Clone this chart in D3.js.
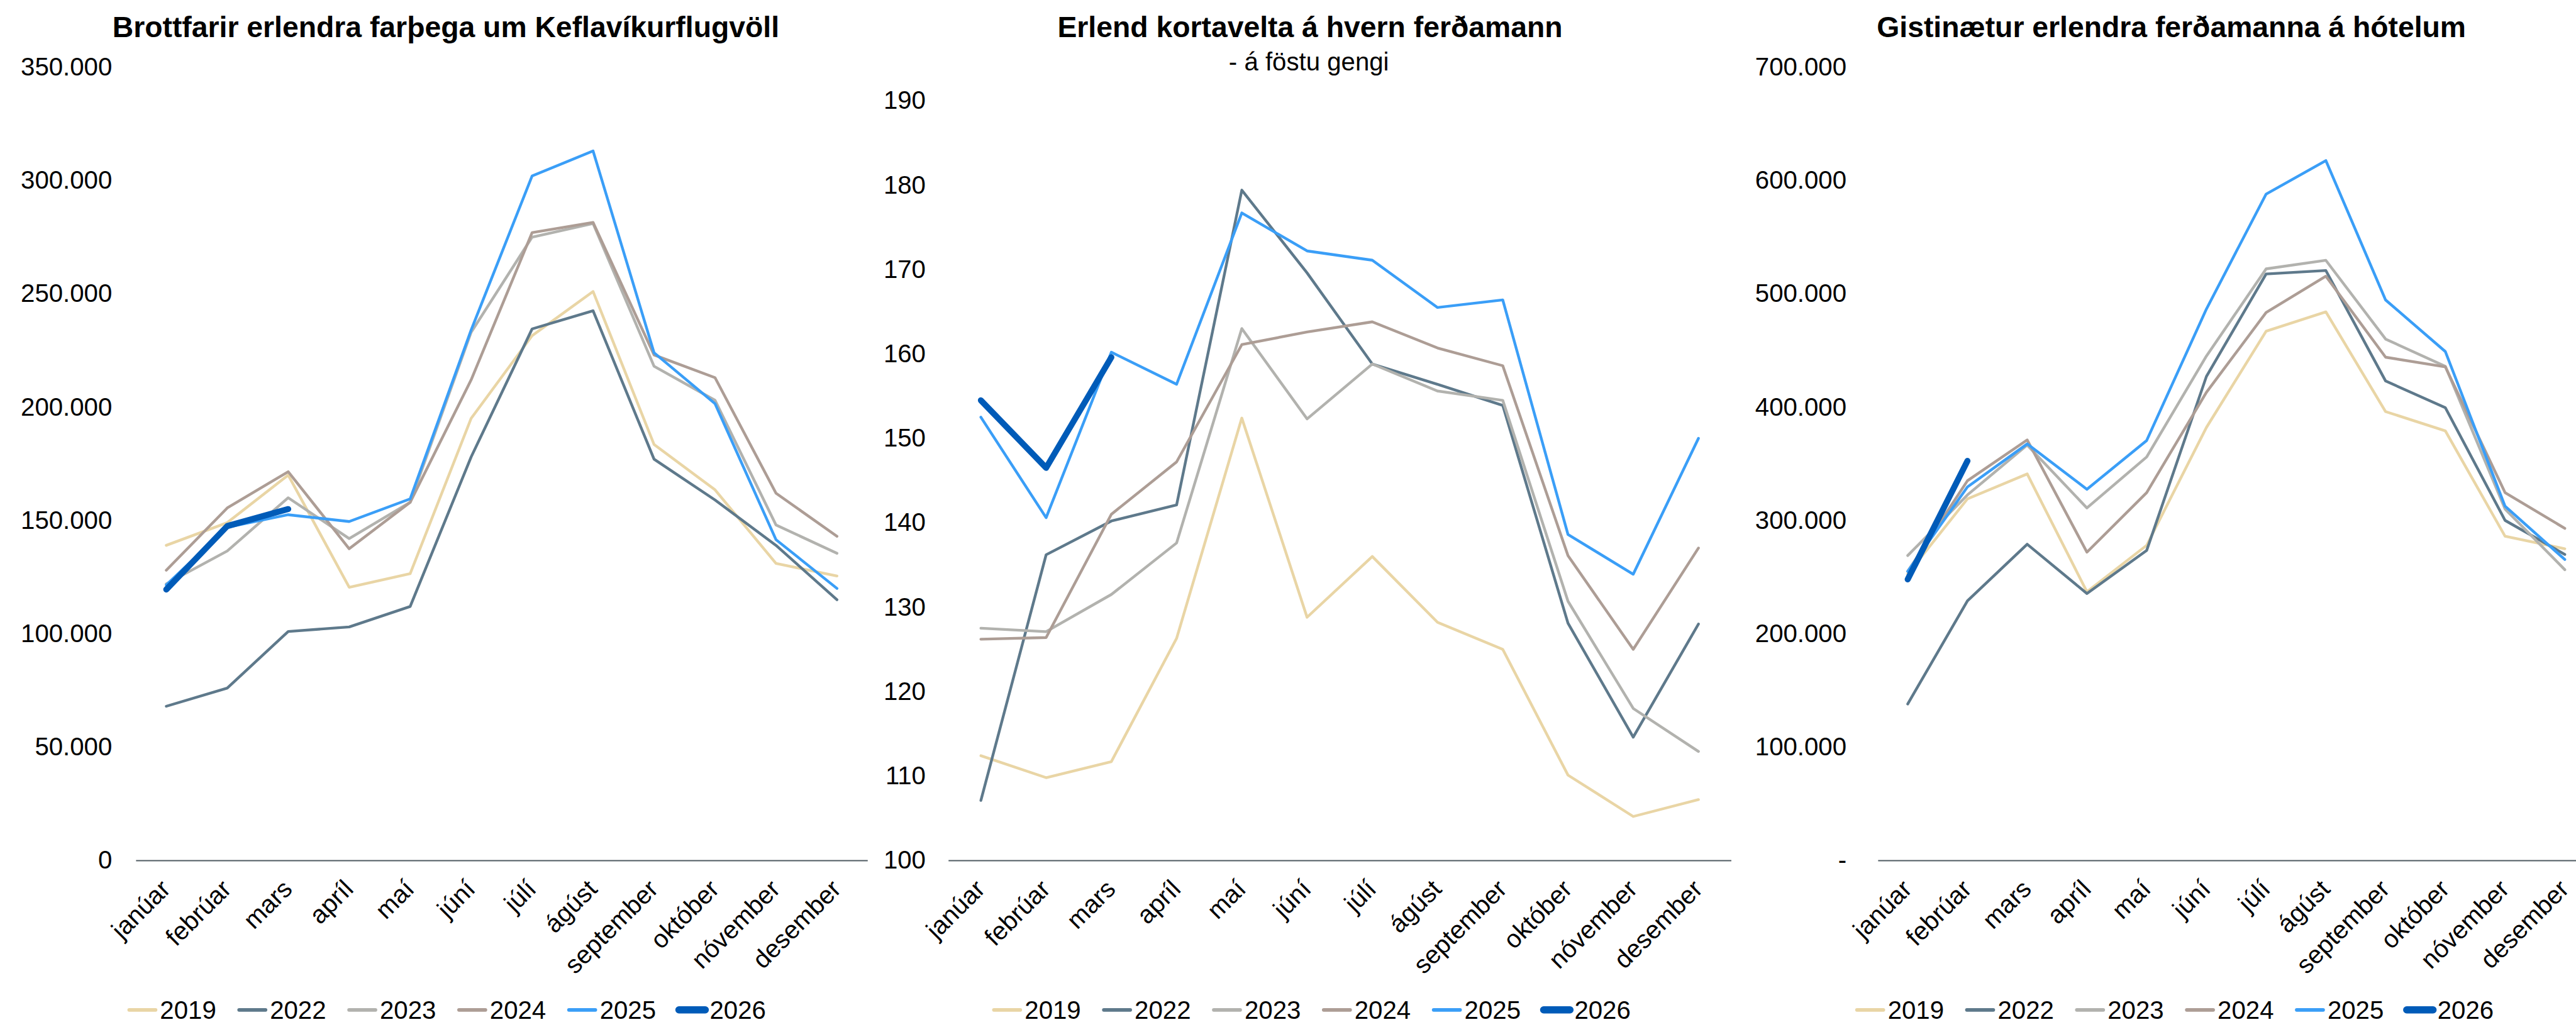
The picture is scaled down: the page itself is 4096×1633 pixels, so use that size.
<!DOCTYPE html>
<html>
<head>
<meta charset="utf-8">
<script src="https://cdn.jsdelivr.net/npm/d3@7"></script>
<style>
  html, body { margin: 0; padding: 0; background: #fff; overflow: hidden; }
  svg text { font-family: "Liberation Sans", Arial, sans-serif; fill: #000; }
</style>
</head>
<body>
<svg id="chart"></svg>
<script>
// ---- data ---------------------------------------------------------------
const months = ["janúar", "febrúar", "mars", "apríl", "maí", "júní",
                "júlí", "ágúst", "september", "október", "nóvember", "desember"];
const years = ["2019", "2022", "2023", "2024", "2025", "2026"];

// Brottfarir erlendra farþega um Keflavíkurflugvöll
const dep2019 = [139000, 149000, 170000, 120500, 126500, 195000, 231500, 251000, 183500, 163500, 131000, 125500];
const dep2022 = [68000, 76000, 101000, 103000, 112000, 178000, 234500, 242500, 177000, 159000, 139000, 115000];
const dep2023 = [122000, 136500, 160000, 142000, 158000, 233000, 275000, 281000, 218000, 203000, 148000, 135500];
const dep2024 = [128000, 155500, 171500, 137500, 158000, 212000, 277000, 281500, 223000, 213000, 162000, 143000];
const dep2025 = [121500, 147000, 152500, 149500, 159500, 234000, 302000, 313000, 224000, 201500, 141500, 120000];
const dep2026 = [119500, 147500, 155000];
const depTicks = [0, 50000, 100000, 150000, 200000, 250000, 300000, 350000];

// Erlend kortavelta á hvern ferðamann - á föstu gengi
const card2019 = [112.4, 109.8, 111.7, 126.3, 152.4, 128.8, 136.0, 128.2, 125.0, 110.1, 105.2, 107.2];
const card2022 = [107.1, 136.2, 140.2, 142.1, 179.4, 169.6, 158.8, 156.4, 153.9, 128.1, 114.6, 128.0];
const card2023 = [127.5, 127.1, 131.5, 137.6, 163.0, 152.3, 158.8, 155.6, 154.5, 130.7, 118.0, 112.9];
const card2024 = [126.2, 126.4, 141.0, 147.2, 161.1, 162.6, 163.8, 160.7, 158.6, 136.1, 125.0, 137.0];
const card2025 = [152.5, 140.6, 160.2, 156.4, 176.7, 172.2, 171.1, 165.5, 166.4, 138.6, 133.9, 150.0];
const card2026 = [154.5, 146.5, 159.6];
const cardTicks = [100, 110, 120, 130, 140, 150, 160, 170, 180, 190];

// Gistinætur erlendra ferðamanna á hótelum
const hot2019 = [252800, 319000, 341000, 237000, 278000, 382000, 467000, 484000, 396000, 379000, 286000, 275000];
const hot2022 = [138000, 229000, 279000, 235500, 273500, 427000, 517500, 520500, 423000, 399500, 300000, 270000];
const hot2023 = [269000, 322500, 366500, 311000, 356000, 445000, 522000, 529500, 460000, 436000, 310000, 256500];
const hot2024 = [255000, 335000, 371000, 272000, 324500, 413000, 483500, 515500, 444000, 435500, 324500, 293000];
const hot2025 = [255000, 329500, 367500, 327500, 370500, 486500, 588000, 617500, 494500, 449000, 312500, 265500];
const hot2026 = [248000, 352500];
const hotTicks = [0, 100000, 200000, 300000, 400000, 500000, 600000, 700000];

// ---- styles -------------------------------------------------------------
const yearColors = ["#E9D5A5", "#5E798B", "#B2B2AE", "#AD9D95", "#3A9EF7", "#005BB8"];
const yearWidths = [5, 5, 5, 5, 5, 11];
const legendWidths = [6.5, 6.5, 6.5, 6.5, 6.5, 13];

const W = 4686, H = 1868;
const axisY = 1565;
const is = d3.formatLocale({ decimal: ",", thousands: ".", grouping: [3], currency: ["", ""] });
const fmtThousands = is.format(",");

const panels = [
  { titles: ["Brottfarir erlendra farþega um Keflavíkurflugvöll"], titleX: 811,
    series: [dep2019, dep2022, dep2023, dep2024, dep2025, dep2026],
    domain: [0, 350000], ticks: depTicks, yTop: 122,
    fmt: d => fmtThousands(d),
    x0: 247, x1: 1578, labelRight: 204, legendX: 231 },
  { titles: ["Erlend kortavelta á hvern ferðamann", "- á föstu gengi"], titleX: 2383,
    series: [card2019, card2022, card2023, card2024, card2025, card2026],
    domain: [100, 190], ticks: cardTicks, yTop: 183,
    fmt: d => String(d),
    x0: 1725, x1: 3149, labelRight: 1684, legendX: 1804 },
  { titles: ["Gistinætur erlendra ferðamanna á hótelum"], titleX: 3950,
    series: [hot2019, hot2022, hot2023, hot2024, hot2025, hot2026],
    domain: [0, 700000], ticks: hotTicks, yTop: 122,
    fmt: d => d === 0 ? "-" : fmtThousands(d),
    x0: 3416, x1: 4720, labelRight: 3359, legendX: 3374 }
];

const svg = d3.select("#chart")
  .attr("width", 4096).attr("height", 1633)
  .attr("viewBox", `0 0 ${W} ${H}`);

panels.forEach(p => {
  const g = svg.append("g");
  const x = d3.scaleBand().domain(months).range([p.x0, p.x1]).padding(0);
  const y = d3.scaleLinear().domain(p.domain).range([axisY, p.yTop]);
  const cx = i => x(months[i]) + x.bandwidth() / 2;

  // titles
  g.append("text")
    .attr("x", p.titleX).attr("y", 67)
    .attr("text-anchor", "middle")
    .style("font-size", "53px").style("font-weight", "bold")
    .text(p.titles[0]);
  if (p.titles[1]) {
    g.append("text")
      .attr("x", p.titleX - 2).attr("y", 128)
      .attr("text-anchor", "middle")
      .style("font-size", "46px")
      .text(p.titles[1]);
  }

  // value axis (labels only)
  const ya = g.append("g")
    .attr("transform", `translate(${p.labelRight},0)`)
    .call(d3.axisLeft(y).tickValues(p.ticks).tickSize(0).tickPadding(0).tickFormat(p.fmt));
  ya.select(".domain").remove();
  ya.selectAll("text").style("font-size", "46px").attr("fill", "#000")
    .style("font-family", "'Liberation Sans', Arial, sans-serif");

  // category axis
  const xa = g.append("g")
    .attr("transform", `translate(0,${axisY})`)
    .call(d3.axisBottom(x).tickSize(0).tickSizeOuter(0));
  xa.select(".domain").attr("stroke", "#4E5A61").attr("stroke-width", 2.5);
  xa.selectAll("text")
    .attr("x", 0).attr("y", 0).attr("dy", 0)
    .attr("text-anchor", "end")
    .attr("transform", "translate(10,55) rotate(-45)")
    .attr("fill", "#000")
    .style("font-size", "46px")
    .style("font-family", "'Liberation Sans', Arial, sans-serif");

  // series lines
  const line = d3.line().x((d, i) => cx(i)).y(d => y(d));
  p.series.forEach((vals, k) => {
    g.append("path")
      .datum(vals)
      .attr("d", line)
      .attr("fill", "none")
      .attr("stroke", yearColors[k])
      .attr("stroke-width", yearWidths[k])
      .attr("stroke-linejoin", "round")
      .attr("stroke-linecap", "round");
  });

  // legend
  const lg = g.append("g");
  years.forEach((yr, k) => {
    const item = lg.append("g").attr("transform", `translate(${p.legendX + k * 200},1837)`);
    item.append("line")
      .attr("x1", 4).attr("x2", 52).attr("y1", 0).attr("y2", 0)
      .attr("stroke", yearColors[k])
      .attr("stroke-width", legendWidths[k])
      .attr("stroke-linecap", "round");
    item.append("text")
      .attr("x", 60).attr("y", 16)
      .style("font-size", "46px")
      .text(yr);
  });
});
</script>
</body>
</html>
